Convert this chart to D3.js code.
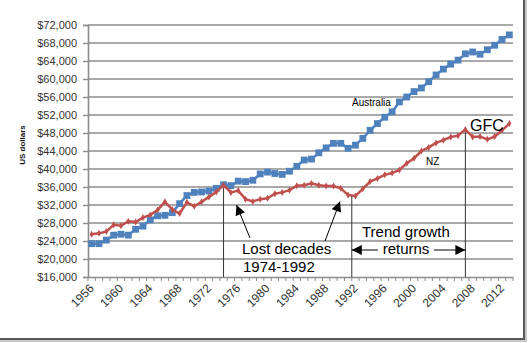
<!DOCTYPE html>
<html>
<head>
<meta charset="utf-8">
<script src="https://cdn.jsdelivr.net/npm/d3@7/dist/d3.min.js"></script>
<style>
  html, body { margin: 0; padding: 0; background: #fff; }
  svg { display: block; }
</style>
</head>
<body>
<svg id="chart" width="529" height="343"></svg>
<script>
const years = d3.range(1956, 2014);
const australia = [
  23400, 23400, 24200, 25300, 25500, 25300, 26600, 27300, 28700, 29600,
  29700, 30300, 32300, 34100, 34800, 34900, 35100, 35700, 36500, 36300,
  37300, 37200, 37500, 38900, 39300, 39000, 38800, 39500, 40600, 42000,
  42200, 43600, 44700, 45700, 45700, 44600, 45300, 46800, 48600, 50100,
  51500, 52700, 54900, 56000, 57200, 58000, 59400, 60900, 62200, 63300,
  64200, 65600, 66000, 65500, 66500, 67500, 68800, 69800
];
const nz = [
  25500, 25700, 26100, 27600, 27400, 28400, 28200, 29200, 29800, 30900,
  32700, 31000, 30100, 32600, 31700, 32700, 33800, 34900, 36400, 34800,
  35200, 33300, 32800, 33300, 33500, 34500, 34800, 35300, 36300, 36400,
  36800, 36400, 36200, 36200, 35700, 34200, 34000, 35600, 37200, 37900,
  38700, 39100, 39800, 41300, 42400, 44000, 44800, 45800, 46400, 47100,
  47400, 48800, 47100, 47200, 46600, 47200, 48600, 50100
];
const yTicks = d3.range(16000, 72001, 4000);
const xLabelYears = d3.range(1956, 2013, 4);
const eventYears = [1974, 1991.5, 2007];

(function () {
const svg = d3.select("#chart");
const pL = 88, pR = 513, pT = 25, pB = 277;

const x = d3.scaleBand().domain(years).range([pL, pR]).paddingInner(0).paddingOuter(0);
const bw = x.bandwidth();
const xc = yr => pL + (yr - years[0] + 0.5) * bw;
const y = d3.scaleLinear().domain([16000, 72000]).range([pB, pT]);
const font = "Liberation Sans, Arial, sans-serif";

// frame shadow (right & bottom)
svg.append("path").attr("d", "M526,0 V341 H0").attr("fill", "none")
  .attr("stroke", "#c8c8c8").attr("stroke-width", 2);
svg.append("path").attr("d", "M524,0 V339 H0").attr("fill", "none")
  .attr("stroke", "#5a5a5a").attr("stroke-width", 2);

// gridlines
svg.append("g").selectAll("line").data(yTicks.filter(d => d > 16000)).join("line")
  .attr("x1", pL).attr("x2", pR)
  .attr("y1", d => y(d)).attr("y2", d => y(d))
  .attr("stroke", "#8c8c8c").attr("stroke-width", 1.6);

// y axis
const yAxis = d3.axisLeft(y).tickValues(yTicks).tickSize(5).tickPadding(6)
  .tickFormat(d => "$" + d3.format(",")(d));
const gy = svg.append("g").attr("transform", `translate(${pL},0)`).call(yAxis);
gy.select(".domain").attr("stroke", "#8c8c8c").attr("stroke-width", 1.6);
gy.selectAll(".tick line").attr("stroke", "#8c8c8c").attr("stroke-width", 1.4);
gy.selectAll("text").attr("font-family", font)
  .attr("font-size", 11).attr("fill", "#333");

// x axis
const xAxis = d3.axisBottom(x).tickSize(0).tickFormat("");
const gx = svg.append("g").attr("transform", `translate(0,${pB})`).call(xAxis);
gx.select(".domain").attr("stroke", "#8c8c8c").attr("stroke-width", 1.6);
svg.append("g").selectAll("line").data(d3.range(years.length + 1)).join("line")
  .attr("x1", i => pL + i * bw).attr("x2", i => pL + i * bw)
  .attr("y1", pB).attr("y2", pB + 4)
  .attr("stroke", "#8c8c8c").attr("stroke-width", 1);
svg.append("g").selectAll("text").data(xLabelYears).join("text")
  .attr("transform", d => `translate(${x(d) + bw / 2 + 3},${pB + 12}) rotate(-45)`)
  .attr("text-anchor", "end")
  .attr("font-family", font)
  .attr("font-size", 12).attr("fill", "#333")
  .text(d => d);

// y axis title
svg.append("text")
  .attr("transform", "translate(25,145) rotate(-90)")
  .attr("text-anchor", "middle")
  .attr("font-family", font)
  .attr("font-size", 8).attr("font-weight", "bold").attr("fill", "#111")
  .text("US dollars");

// event vertical lines
const evTop = [y(nz[years.indexOf(1974)]), y(34100), y(nz[years.indexOf(2007)])];
svg.append("g").selectAll("line").data(eventYears).join("line")
  .attr("x1", d => xc(d)).attr("x2", d => xc(d))
  .attr("y1", (d, i) => evTop[i]).attr("y2", pB)
  .attr("stroke", "#333").attr("stroke-width", 1);

// series
const line = d3.line().x((d, i) => x(years[i]) + bw / 2).y(d => y(d));
svg.append("path").datum(australia).attr("d", line)
  .attr("fill", "none").attr("stroke", "#4f81bd").attr("stroke-width", 2.5);
svg.append("g").selectAll("rect").data(australia).join("rect")
  .attr("x", (d, i) => x(years[i]) + bw / 2 - 3.4)
  .attr("y", d => y(d) - 3.4)
  .attr("width", 6.8).attr("height", 6.8)
  .attr("fill", "#4f81bd");

svg.append("path").datum(nz).attr("d", line)
  .attr("fill", "none").attr("stroke", "#c0504d").attr("stroke-width", 2.5);
svg.append("g").selectAll("path").data(nz).join("path")
  .attr("d", d3.symbol().type(d3.symbolDiamond).size(14))
  .attr("transform", (d, i) => `translate(${x(years[i]) + bw / 2},${y(d)})`)
  .attr("fill", "#c0504d");

// arrow marker
const defs = svg.append("defs");
defs.append("marker").attr("id", "ah").attr("viewBox", "0 0 10 10")
  .attr("refX", 10).attr("refY", 5).attr("markerWidth", 11).attr("markerHeight", 10)
  .attr("markerUnits", "userSpaceOnUse").attr("orient", "auto-start-reverse")
  .append("path").attr("d", "M0,0 L10,5 L0,10 z").attr("fill", "#000");

// Lost decades arrows
svg.append("line").attr("x1", 250).attr("y1", 238).attr("x2", 236.5).attr("y2", 205)
  .attr("stroke", "#000").attr("stroke-width", 1).attr("marker-end", "url(#ah)");
svg.append("line").attr("x1", 325).attr("y1", 241).attr("x2", 340).attr("y2", 201.5)
  .attr("stroke", "#000").attr("stroke-width", 1).attr("marker-end", "url(#ah)");

svg.append("text").attr("x", 242).attr("y", 254).attr("font-family", font)
  .attr("font-size", 15).attr("fill", "#000").text("Lost decades");
svg.append("text").attr("x", 243).attr("y", 271.5).attr("font-family", font)
  .attr("font-size", 15).attr("fill", "#000").text("1974-1992");

svg.append("text").attr("x", 362).attr("y", 237).attr("font-family", font)
  .attr("font-size", 15).attr("fill", "#000").text("Trend growth");
svg.append("text").attr("x", 406).attr("y", 254).attr("text-anchor", "middle").attr("font-family", font)
  .attr("font-size", 15).attr("fill", "#000").text("returns");
// double arrow
svg.append("line").attr("x1", 378).attr("y1", 250).attr("x2", xc(1991.5)).attr("y2", 250)
  .attr("stroke", "#000").attr("stroke-width", 1).attr("marker-end", "url(#ah)");
svg.append("line").attr("x1", 434).attr("y1", 250).attr("x2", xc(2007)).attr("y2", 250)
  .attr("stroke", "#000").attr("stroke-width", 1).attr("marker-end", "url(#ah)");

svg.append("text").attr("x", 470).attr("y", 131).attr("font-family", font)
  .attr("font-size", 16).attr("fill", "#000").text("GFC");
svg.append("text").attr("x", 352).attr("y", 106).attr("font-family", font)
  .attr("font-size", 10).attr("fill", "#000").text("Australia");
svg.append("text").attr("x", 426).attr("y", 165).attr("font-family", font)
  .attr("font-size", 10).attr("fill", "#000").text("NZ");
})();
</script>
</body>
</html>
